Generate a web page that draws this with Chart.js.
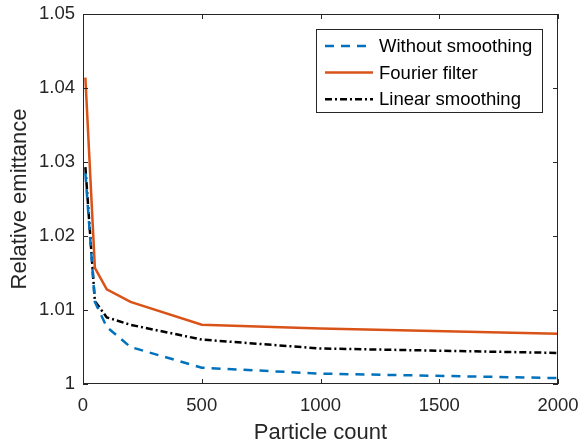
<!DOCTYPE html>
<html>
<head>
<meta charset="utf-8">
<script src="https://cdn.jsdelivr.net/npm/chart.js@4.4.0/dist/chart.umd.min.js"></script>
<style>
  html, body { margin: 0; padding: 0; background: #fff; }
  #wrap { width: 580px; height: 446px; }
</style>
</head>
<body>
<div id="wrap"><canvas id="myChart" width="580" height="446"></canvas></div>
<script>
// particle counts on the x axis
const particleCounts = [10, 50, 100, 200, 500, 1000, 2000];
// relative emittance for each method
const withoutSmoothing = [1.0285, 1.0111, 1.0077, 1.0050, 1.0022, 1.0014, 1.0008];
const fourierFilter = [1.0414, 1.0157, 1.0128, 1.0111, 1.0080, 1.0075, 1.0068];
const linearSmoothing = [1.0293, 1.0112, 1.0090, 1.0080, 1.0060, 1.0048, 1.0042];
const xTicks = [0, 500, 1000, 1500, 2000];
const yTicks = [1, 1.01, 1.02, 1.03, 1.04, 1.05];

const textColor = '#262626';
const font = 'Liberation Sans, Arial, Helvetica, sans-serif';
const tickSize = 18.5;

let toPoints = (ys) => particleCounts.map((x, i) => ({ x: x, y: ys[i] }));

// MATLAB-like frame, inward ticks and legend box
let frame = {
  id: 'frame',
  afterDraw(chart) {
    let ctx = chart.ctx;
    let a = chart.chartArea;
    let xs = chart.scales.x, ys = chart.scales.y;
    ctx.save();
    ctx.strokeStyle = textColor;
    ctx.lineWidth = 1;
    ctx.strokeRect(Math.round(a.left) + 0.5, Math.round(a.top) + 0.5,
      Math.round(a.right - a.left) - 1, Math.round(a.bottom - a.top) - 1);
    ctx.beginPath();
    xTicks.forEach((t) => {
      let px = Math.round(xs.getPixelForValue(t)) + 0.5;
      ctx.moveTo(px, a.bottom); ctx.lineTo(px, a.bottom - 5);
      ctx.moveTo(px, a.top); ctx.lineTo(px, a.top + 5);
    });
    yTicks.forEach((t) => {
      let py = Math.round(ys.getPixelForValue(t)) + 0.5;
      ctx.moveTo(a.left, py); ctx.lineTo(a.left + 5, py);
      ctx.moveTo(a.right, py); ctx.lineTo(a.right - 5, py);
    });
    ctx.stroke();

    // legend
    let lx = 316, ly = 29, lw = 226, lh = 83;
    ctx.fillStyle = '#fff';
    ctx.fillRect(lx, ly, lw, lh);
    ctx.strokeRect(lx + 0.5, ly + 0.5, lw, lh);
    chart.data.datasets.forEach((ds, i) => {
      let rowY = ly + 17 + i * 26.6;
      ctx.beginPath();
      ctx.strokeStyle = ds.borderColor;
      ctx.lineWidth = ds.borderWidth;
      ctx.setLineDash(ds.borderDash || []);
      ctx.moveTo(lx + 9, rowY);
      ctx.lineTo(lx + 57, rowY);
      ctx.stroke();
      ctx.setLineDash([]);
      ctx.fillStyle = '#000';
      ctx.font = tickSize + 'px ' + font;
      ctx.textBaseline = 'middle';
      ctx.textAlign = 'left';
      ctx.fillText(ds.label, lx + 63, rowY + 1);
    });
    ctx.restore();
  }
};

let ctx = document.getElementById('myChart');
let myChart = new Chart(ctx, {
  type: 'line',
  data: {
    datasets: [
      {
        label: 'Without smoothing',
        data: toPoints(withoutSmoothing),
        borderColor: '#0072BD',
        borderWidth: 2.5,
        borderDash: [9, 7],
        pointRadius: 0,
        fill: false
      },
      {
        label: 'Fourier filter',
        data: toPoints(fourierFilter),
        borderColor: '#D95319',
        borderWidth: 2.5,
        pointRadius: 0,
        fill: false
      },
      {
        label: 'Linear smoothing',
        data: toPoints(linearSmoothing),
        borderColor: '#000000',
        borderWidth: 2.5,
        borderDash: [7, 3, 2, 3],
        pointRadius: 0,
        fill: false
      }
    ]
  },
  options: {
    responsive: false,
    animation: false,
    layout: { padding: { top: 14, right: 22, left: 0, bottom: 0 } },
    plugins: {
      legend: { display: false },
      tooltip: { enabled: false }
    },
    scales: {
      x: {
        type: 'linear',
        min: 0,
        max: 2000,
        afterBuildTicks: (scale) => { scale.ticks = xTicks.map(v => ({ value: v })); },
        afterFit: (scale) => { scale.height = 62; scale.paddingLeft = 0; scale.paddingRight = 0; },
        grid: { display: false, drawTicks: false },
        border: { display: false },
        ticks: {
          color: textColor,
          font: { size: tickSize, family: font },
          padding: 11,
          maxRotation: 0,
          callback: (v) => String(v)
        },
        title: { display: true, text: 'Particle count', color: textColor, font: { size: 22, family: font }, padding: { top: 0, bottom: 0 } }
      },
      y: {
        type: 'linear',
        min: 1,
        max: 1.05,
        afterBuildTicks: (scale) => { scale.ticks = yTicks.map(v => ({ value: v })); },
        afterFit: (scale) => { scale.width = 83; scale.paddingTop = 0; scale.paddingBottom = 0; },
        grid: { display: false, drawTicks: false },
        border: { display: false },
        ticks: {
          color: textColor,
          font: { size: tickSize, family: font },
          padding: 8,
          callback: (v) => String(parseFloat(v.toFixed(2)))
        },
        title: { display: true, text: 'Relative emittance', color: textColor, font: { size: 22, family: font }, padding: { top: 7, bottom: 0 } }
      }
    }
  },
  plugins: [frame]
});
</script>
</body>
</html>
